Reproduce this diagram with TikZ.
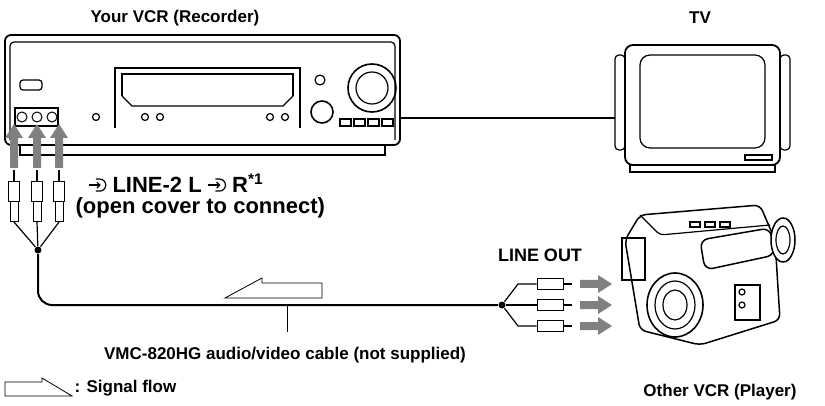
\documentclass[tikz,border=0pt]{standalone}
\usepackage{fontspec}
\setmainfont{Liberation Sans}
\usetikzlibrary{positioning,arrows.meta}
\newcommand{\insym}{\tikz[baseline=-0.6ex,line width=1.2pt]{\draw[-{Straight Barb[length=3pt]}] (0,0) -- (12pt,0); \draw (7pt,6pt) -- (11pt,6pt) arc (90:-90:6pt) -- (7pt,-6pt);}}
\begin{document}
\begin{tikzpicture}[x=1pt,y=-1pt,line width=1.2pt,
  lbl/.style={font=\bfseries\fontsize{17}{19}\selectfont,inner sep=0pt},
  biglbl/.style={font=\bfseries\fontsize{22}{24}\selectfont,inner sep=0pt,anchor=west},
  flow/.style={draw=none,fill=black!50},
  jack/.style={circle,draw,line width=1pt,minimum size=10pt,inner sep=0pt},
  plugv/.style={draw,fill=white,line width=1pt,minimum width=11pt,minimum height=20pt,inner sep=0pt},
  plugh/.style={draw,fill=white,line width=1pt,minimum width=26pt,minimum height=11pt,inner sep=0pt},
  joint/.style={circle,fill,inner sep=0pt,minimum size=7pt}]
  \useasboundingbox (0,0) rectangle (825,406);

  % titles
  \node[lbl] (vcrtitle) at (175,18) {Your VCR (Recorder)};
  \node[lbl] (tvtitle) at (700,18) {TV};

  % recorder
  \draw[line width=1.8pt,rounded corners=6pt] (5,145) -- (5,35) -- (400,35) -- (400,145) -- cycle;
  \draw[rounded corners=4pt] (10,140) -- (10,42) -- (395,42) -- (395,140);
  \draw (20,145) -- (20,155) -- (385,155) -- (385,145);
  \draw (115,128) -- (115,68) -- (300,68) -- (300,128);
  \draw (122,96) -- (122,74) -- (293,74) -- (293,96);
  \draw (122,96) -- (132,106) -- (283,106) -- (293,96);
  \draw[rounded corners=3pt] (20,80) rectangle (42,90);
  \draw (15,108) rectangle (58,126);
  \node[jack] (jackL) at (22,117) {};
  \node[jack] (jackM) at (37,117) {};
  \node[jack] (jackR) at (52,117) {};
  \foreach \x in {96,145,160,270,285}
    \draw (\x,117) circle (3.5pt);
  \draw (320,80) circle (5pt);
  \draw[line width=1.6pt] (372,88) circle (24pt);
  \draw (372,88) circle (16pt);
  \draw[line width=1.6pt] (322,112) circle (11pt);
  \foreach \x in {340,354,368,382}
    \draw (\x,119) rectangle ++(11,7);

  % tv
  \draw[line width=1.8pt,rounded corners=8pt] (625,45) rectangle (780,165);
  \draw[rounded corners=4pt] (615,55) rectangle (625,150);
  \draw[rounded corners=4pt] (780,55) rectangle (790,150);
  \draw[rounded corners=10pt] (640,55) rectangle (765,148);
  \draw (745,155) rectangle (772,160);
  \draw (630,165) rectangle (775,172);
  \coordinate (tvin) at (615,118);
  \coordinate (vcrout) at (400,118);
  \draw[line width=1.8pt] (vcrout) -- (tvin);

  % input arrows and plugs
  \foreach \x/\n in {14/a,37/b,59/c} {
    \draw[flow] (\x-4,168) -- (\x-4,138) -- (\x-9,138) -- (\x,124) -- (\x+9,138) -- (\x+4,138) -- (\x+4,168) -- cycle;
    \node[plugv] (pl\n) at (\x,192) {};
    \draw[line width=1.4pt] (\x,170) -- (pl\n.north);
    \draw[line width=1pt,fill=white] (\x-4,202) rectangle (\x+4,222);
  }
  \node[joint] (jin) at (38,250) {};
  \foreach \x in {14,37,59}
    \draw (\x,222) -- (jin);

  % cable
  \node[joint] (jout) at (502,305) {};
  \draw[line width=2pt,rounded corners=14pt] (jin) -- (38,305) -- (jout);
  \foreach \y/\n in {284/a,305/b,326/c} {
    \node[plugh] (ph\n) at (550,\y) {};
    \draw (jout) -- (518,\y) -- (ph\n.west);
    \draw[line width=1.4pt] (ph\n.east) -- ++(8,0);
    \draw[flow] (580,\y-4) -- (598,\y-4) -- (598,\y-9) -- (612,\y) -- (598,\y+9) -- (598,\y+4) -- (580,\y+4) -- cycle;
  }
  \coordinate (cablept) at (287,305);
  \draw[line width=1pt] (cablept) -- (287,332);
  \draw[line width=0.8pt,fill=white] (322,283) -- (322,298) -- (255,298) -- (225,298) -- (262,278) -- (262,283) -- cycle;

  % camcorder
  \draw[line width=1.5pt,rounded corners=6pt,fill=white] (625,240) -- (640,215) -- (760,205) -- (775,240) -- (780,320) -- (700,345) -- (640,330) -- cycle;
  \draw[rounded corners=4pt] (640,215) -- (660,235) -- (770,225);
  \draw[line width=1.5pt,rounded corners=8pt,fill=white] (700,240) -- (770,228) -- (775,255) -- (705,270) -- cycle;
  \draw[line width=1.5pt,fill=white] (783,240) ellipse (12pt and 22pt);
  \draw (783,240) ellipse (7pt and 14pt);
  \draw[line width=1.5pt] (622,238) rectangle (645,280);
  \draw[line width=1.6pt,fill=white] (675,305) ellipse (28pt and 32pt);
  \draw (675,305) ellipse (20pt and 24pt);
  \draw (675,305) ellipse (12pt and 15pt);
  \draw (735,285) rectangle (760,320);
  \foreach \y in {292,305} \draw (742,\y) circle (3pt);
  \foreach \x in {690,705,720} \draw (\x,222) rectangle ++(10,5);

  % labels
  \node[biglbl] (linein) at (88,183) {\insym\ LINE-2 L \insym\ R\textsuperscript{*1}};
  \node[biglbl] (cover) at (75,208) {(open cover to connect)};
  \node[lbl,font=\bfseries\fontsize{18}{20}\selectfont] (lineout) at (540,255) {LINE OUT};
  \node[lbl] (cablelbl) at (285,355) {VMC-820HG audio/video cable (not supplied)};
  \node[lbl] (playerlbl) at (720,392) {Other VCR (Player)};
  \draw[line width=0.8pt] (5,382) -- (5,396) -- (72,396) -- (42,378) -- (42,382) -- cycle;
  \node[lbl,anchor=west] (legend) at (74,388) {: Signal flow};
\end{tikzpicture}
\end{document}
